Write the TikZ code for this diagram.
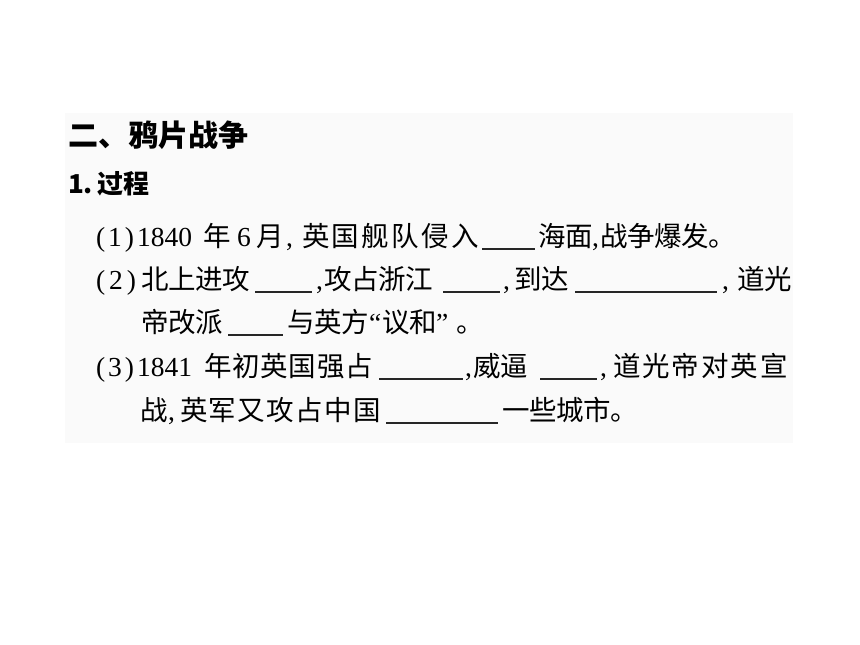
\documentclass[tikz,border=0pt]{standalone}
\usepackage{fontspec}
\newfontfamily\cjk{Noto Sans CJK SC}
\newfontfamily\lat{Liberation Serif}
\definecolor{bgbox}{RGB}{250,250,250}
\newlength\pw
\def\pitchloop#1{\ifx#1\relax\else\makebox[\pw][l]{#1}\expandafter\pitchloop\fi}
\newcommand\ps[2]{\setlength\pw{#1pt}\pitchloop#2\relax}
\begin{document}
\begin{tikzpicture}[x=1pt,y=-1pt,
  body/.style={anchor=base west,inner sep=0pt,outer sep=0pt,font=\cjk\fontsize{27.5}{27.5}\selectfont},
  latin/.style={anchor=base west,inner sep=0pt,outer sep=0pt,font=\lat\fontsize{27.5}{27.5}\selectfont},
  head/.style={anchor=base west,inner sep=0pt,outer sep=0pt,font=\cjk\bfseries\fontsize{30}{30}\selectfont},
  sub/.style={anchor=base west,inner sep=0pt,outer sep=0pt,font=\cjk\bfseries\fontsize{26}{26}\selectfont},
  blankline/.style={line width=1.1pt,black!85}]
\useasboundingbox[fill=white] (0,0) rectangle (860,645);
\fill[bgbox] (65,113) rectangle (793,443);
% title
\node[head] (title) at (68,146) {\ps{30}{二、鸦片战争}};
\node[sub] (subn) at (68,193) {1.};
\node[sub] (subt) at (97,193) {\ps{26}{过程}};
% line 1
\node[latin] (l1a) at (96,246) {(\kern3pt 1\kern3pt)\kern3pt 1840};
\node[body] (l1b) at (203,246) {年};
\node[latin] (l1c) at (237,246) {6};
\node[body] (l1d) at (256,246) {月};
\node[latin] (l1e) at (286,246) {,};
\node[body] (l1f) at (302,246) {\ps{30}{英国舰队侵入}};
\draw[blankline] (482,249) -- (535,249);
\node[body] (l1g) at (538,246) {\ps{27}{海面}};
\node[latin] (l1h) at (592,246) {,};
\node[body] (l1i) at (600,246) {\ps{27}{战争爆发。}};
% line 2
\node[latin] (l2a) at (96,289) {(\kern4pt 2\kern4pt)};
\node[body] (l2b) at (141,289) {\ps{27}{北上进攻}};
\draw[blankline] (255,292) -- (312,292);
\node[latin] (l2c) at (316,289) {,};
\node[body] (l2d) at (324,289) {\ps{27}{攻占浙江}};
\draw[blankline] (443,292) -- (500,292);
\node[latin] (l2e) at (503,289) {,};
\node[body] (l2f) at (514,289) {\ps{27}{到达}};
\draw[blankline] (575,292) -- (717,292);
\node[latin] (l2g) at (722,289) {,};
\node[body] (l2h) at (737,289) {\ps{27}{道光}};
% line 2b
\node[body] (l2i) at (141,332) {\ps{27}{帝改派}};
\draw[blankline] (228,335) -- (283,335);
\node[body] (l2j) at (287,332) {\ps{27}{与英方}};
\node[latin] (l2k) at (369,332) {“};
\node[body] (l2l) at (382,332) {\ps{27}{议和}};
\node[latin] (l2m) at (436,332) {”};
\node[body] (l2n) at (456,332) {。};
% line 3
\node[latin] (l3a) at (96,376) {(\kern3pt 3\kern3pt)\kern3pt 1841};
\node[body] (l3b) at (204,376) {\ps{28.3}{年初英国强占}};
\draw[blankline] (379,379) -- (463,379);
\node[latin] (l3c) at (465,376) {,};
\node[body] (l3d) at (473,376) {\ps{27}{威逼}};
\draw[blankline] (540,379) -- (597,379);
\node[latin] (l3e) at (600,376) {,};
\node[body] (l3f) at (613,376) {\ps{29.5}{道光帝对英宣}};
% line 3b
\node[body] (l3g) at (140,420) {战};
\node[latin] (l3h) at (168,420) {,};
\node[body] (l3i) at (180,420) {\ps{29}{英军又攻占中国}};
\draw[blankline] (386,423) -- (498,423);
\node[body] (l3j) at (502,420) {\ps{27}{一些城市。}};
\end{tikzpicture}
\end{document}
